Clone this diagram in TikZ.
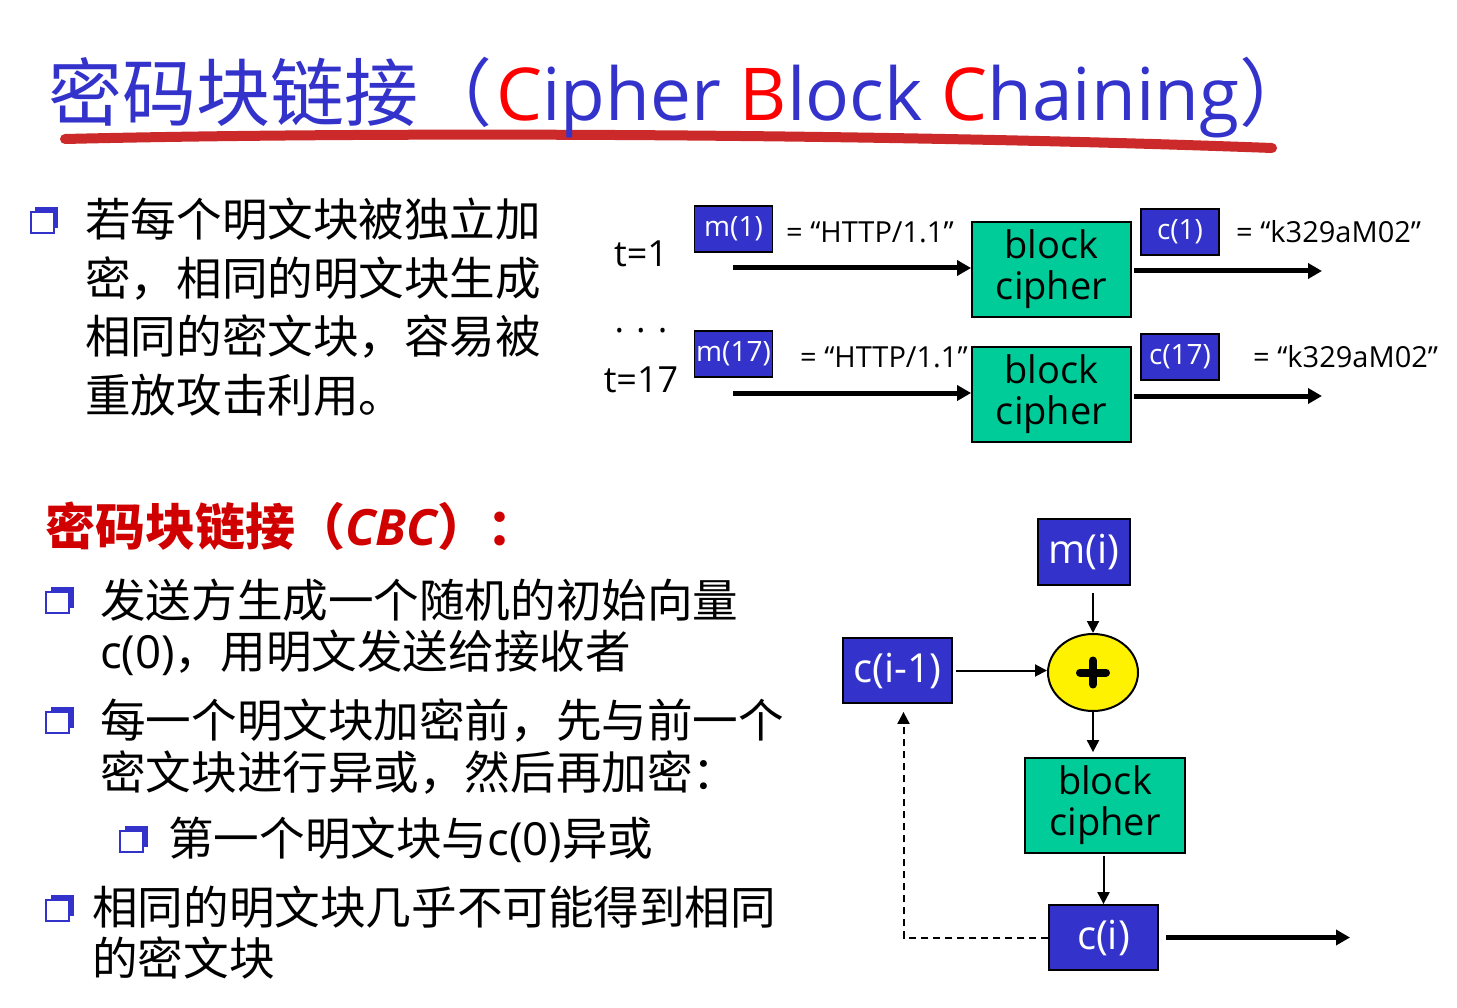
\documentclass[tikz,border=0pt]{standalone}
\usepackage{fontspec}
\setmainfont{Open Sans}
\newfontfamily\cjk{Noto Sans CJK SC}
\usetikzlibrary{arrows.meta,shapes.geometric,shadows}
\definecolor{boxblue}{HTML}{3333CC}
\definecolor{tealg}{HTML}{00CC99}
\definecolor{titleblue}{HTML}{3333CC}
\definecolor{titlered}{HTML}{FF0000}
\definecolor{brushred}{HTML}{CC2A2A}
\definecolor{headred}{HTML}{D00000}
\definecolor{bulblue}{HTML}{3333CC}
\begin{document}
\begin{tikzpicture}[x=1pt,y=-1pt,
  bbox/.style={draw=black,line width=1.8pt,fill=boxblue,text=white,inner sep=0pt},
  cbox/.style={draw=black,line width=1.8pt,fill=tealg,inner sep=0pt,align=center,font=\fontsize{38}{41}\selectfont},
  thickarrow/.style={line width=5pt,-{Triangle[length=14pt,width=15pt]}},
  thinarrow/.style={line width=2pt,-{Triangle[length=12pt,width=12pt]}},
  bul/.style={draw=bulblue,line width=2pt,fill=white,minimum width=23pt,minimum height=21pt,inner sep=0pt,
    general shadow={shadow xshift=4.5pt,shadow yshift=5pt,fill=bulblue}},
  cn/.style={font=\cjk\fontsize{45.6}{58}\selectfont,anchor=base west,inner sep=0pt},
  lbl/.style={inner sep=0pt,anchor=base west,font=\fontsize{29}{29}\selectfont},
  tlbl/.style={inner sep=0pt,anchor=base,font=\fontsize{36}{36}\selectfont},
  small/.style={font=\fontsize{28}{28}\selectfont},
  big/.style={font=\fontsize{40}{40}\selectfont},
]
\fill[white] (0,0) rectangle (1457,1008);
\useasboundingbox (0,0) rectangle (1457,1008);

% title
\draw[brushred,line width=10pt,line cap=round] (65,139) .. controls (400,131) and (900,134) .. (1272,148);
\node[anchor=base west,inner sep=0pt,text=titleblue] (title) at (48,121)
  {{\cjk\fontsize{74}{74}\selectfont 密码块链接（}\hspace{4pt}\resizebox{743pt}{!}{\fontsize{80}{80}\selectfont \textcolor{titlered}{C}ipher \textcolor{titlered}{B}lock \textcolor{titlered}{C}haining}{\cjk\fontsize{74}{74}\selectfont ）}};

% top-left text
\node[bul] (b0) at (42,223) {};
\node[cn] (t1) at (85,237) {若每个明文块被独立加};
\node[cn] (t2) at (85,296) {密，相同的明文块生成};
\node[cn] (t3) at (85,354) {相同的密文块，容易被};
\node[cn] (t4) at (85,412) {重放攻击利用。};

% top-right diagram
\node[tlbl] (tt1) at (641,267) {t=1};
\node[tlbl] (dots) at (641,333) {.\,\,.\,\,.};
\node[tlbl] (tt17) at (641,392) {t=17};

\node[bbox,small,minimum width=78,minimum height=46] (m1) at (733.5,229) {m(1)};
\node[lbl] (h1) at (786,243) {= “HTTP/1.1”};
\node[cbox,minimum width=159,minimum height=95] (bc1) at (1051.5,269.5) {block\\cipher};
\node[bbox,small,minimum width=78,minimum height=46] (c1) at (1180,232) {c(1)};
\node[lbl] (k1) at (1236,243) {= “k329aM02”};
\coordinate (in1) at (733,268);
\coordinate (out1) at (1322,271);
\draw[thickarrow] (in1) -- (in1 -| bc1.west);
\draw[thickarrow,shorten <=2pt] (bc1.east |- out1) -- (out1);

\node[bbox,small,minimum width=78,minimum height=46] (m17) at (733.5,354) {m(17)};
\node[lbl] (h17) at (800,367) {= “HTTP/1.1”};
\node[cbox,minimum width=159,minimum height=95] (bc17) at (1051.5,394.5) {block\\cipher};
\node[bbox,small,minimum width=78,minimum height=46] (c17) at (1180,357) {c(17)};
\node[lbl] (k17) at (1253,367) {= “k329aM02”};
\coordinate (in17) at (733,393);
\coordinate (out17) at (1322,396);
\draw[thickarrow] (in17) -- (in17 -| bc17.west);
\draw[thickarrow,shorten <=2pt] (bc17.east |- out17) -- (out17);

% bottom-left text
\node[anchor=base west,inner sep=0pt,text=headred,font=\fontsize{50}{50}\selectfont] (head) at (45,545)
  {{\cjk\bfseries 密码块链接（}{\bfseries\itshape CBC}{\cjk\bfseries ）：}};
\node[bul] (b1) at (57.5,602) {};
\node[cn] (l11) at (100,617) {发送方生成一个随机的初始向量};
\node[cn] (l12) at (100,668) {{\rmfamily c(0)}，用明文发送给接收者};
\node[bul] (b2) at (57.5,722) {};
\node[cn] (l21) at (100,737) {每一个明文块加密前，先与前一个};
\node[cn] (l22) at (100,789) {密文块进行异或，然后再加密：};
\node[bul] (bs) at (131.5,841) {};
\node[cn] (ls) at (168,855) {第一个明文块与{\rmfamily c(0)}异或};
\node[bul] (b3) at (57.5,910) {};
\node[cn] (l31) at (92,924) {相同的明文块几乎不可能得到相同};
\node[cn] (l32) at (92,975) {的密文块};

% bottom-right CBC diagram
\node[bbox,big,minimum width=92,minimum height=66] (mi) at (1084,552) {m(i)};
\node[bbox,big,minimum width=109,minimum height=65] (cim) at (897.5,670.5) {c(i-1)};
\node[draw=black,line width=2pt,fill=yellow,ellipse,minimum width=90,minimum height=77,inner sep=0pt] (xor) at (1093,672.5) {};
\draw[line width=8pt,line cap=round] ([xshift=-13pt]xor.center) -- ([xshift=13pt]xor.center);
\draw[line width=8pt,line cap=round] ([yshift=-12pt]xor.center) -- ([yshift=12pt]xor.center);
\node[cbox,minimum width=160,minimum height=95] (bc) at (1105,805.5) {block\\cipher};
\node[bbox,big,minimum width=109,minimum height=65] (ci) at (1103.5,937.5) {c(i)};
\coordinate (ciout) at (1350,939);

\draw[thinarrow,shorten <=7pt] (mi.south -| xor.north) -- (xor.north);
\draw[thinarrow,shorten <=3pt] (cim.east) -- (cim.east -| xor.west);
\draw[thinarrow,shorten >=5pt] (xor.south) -- (xor.south |- bc.north);
\draw[thinarrow,shorten <=2pt] (ci.north |- bc.south) -- (ci.north);
\draw[line width=2pt,dash pattern=on 7pt off 5pt,-{Triangle[length=12pt,width=12pt]},shorten >=8pt]
  (ci.west) -| ([xshift=6pt]cim.south);
\draw[thickarrow,shorten <=7pt] (ci.east) -- (ci.east -| ciout);
\end{tikzpicture}
\end{document}
